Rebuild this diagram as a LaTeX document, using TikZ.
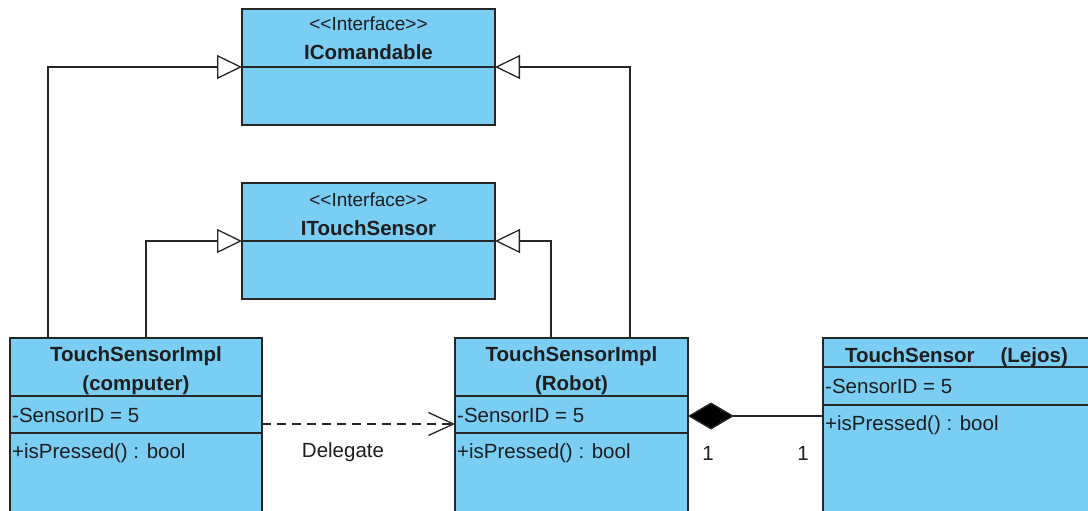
\documentclass[tikz,border=0pt]{standalone}
\usepackage{fontspec}
\setmainfont{Liberation Sans}
\usetikzlibrary{arrows.meta}
\definecolor{umlfill}{RGB}{122,206,244}
\definecolor{umlline}{RGB}{38,38,38}
\definecolor{umltext}{RGB}{30,30,30}
\newcommand{\lsep}{\textless\kern0pt\textless}
\newcommand{\rsep}{\textgreater\kern0pt\textgreater}
\begin{document}
\begin{tikzpicture}[x=1pt,y=-1pt,
  classbox/.style={draw=umlline, fill=umlfill, line width=1.6pt, anchor=north west, inner sep=0pt, outer sep=0pt},
  divider/.style={draw=umlline, line width=1.6pt},
  txt/.style={anchor=base, inner sep=0pt, text=umltext, font=\fontsize{20.5}{24}\selectfont},
  ltxt/.style={txt, anchor=base west},
  ttl/.style={txt, font=\fontsize{20.5}{24}\selectfont\bfseries},
  stereo/.style={txt, font=\fontsize{19}{24}\selectfont},
  gen/.style={draw=umlline, line width=1.3pt, -{Triangle[length=25pt,width=24pt,fill=white]}},
  dep/.style={draw=umlline, line width=1.3pt, dash pattern=on 9pt off 6pt, -{Straight Barb[length=25pt,width=23pt]}},
  compo/.style={draw=umlline, line width=1.3pt, {Diamond[length=46pt,width=27pt,fill=black]}-}
]
\path[use as bounding box] (0,0) rectangle (1088,511);
\clip (0,0) rectangle (1088,511);

% class boxes
\node[classbox, minimum width=253pt, minimum height=116pt] (icom) at (242,9) {};
\node[classbox, minimum width=253pt, minimum height=116pt] (itouch) at (242,183) {};
\node[classbox, minimum width=252pt, minimum height=200pt] (comp) at (10,338) {};
\node[classbox, minimum width=233pt, minimum height=200pt] (robot) at (455,338) {};
\node[classbox, minimum width=300pt, minimum height=200pt] (lejos) at (823,338) {};

% dividers
\draw[divider] (icom.west) -- (icom.east);
\draw[divider] (itouch.west) -- (itouch.east);
\draw[divider] ([yshift=-58pt]comp.north west) -- ([yshift=-58pt]comp.north east);
\draw[divider] ([yshift=-95pt]comp.north west) -- ([yshift=-95pt]comp.north east);
\draw[divider] ([yshift=-58pt]robot.north west) -- ([yshift=-58pt]robot.north east);
\draw[divider] ([yshift=-95pt]robot.north west) -- ([yshift=-95pt]robot.north east);
\draw[divider] ([yshift=-29pt]lejos.north west) -- ([yshift=-29pt]lejos.north east);
\draw[divider] ([yshift=-67pt]lejos.north west) -- ([yshift=-67pt]lejos.north east);

% texts
\node[stereo] (icomst) at (368.5,31) {\lsep Interface\rsep};
\node[ttl] (icomname) at (368.5,60) {IComandable};
\node[stereo] (itouchst) at (368.5,206) {\lsep Interface\rsep};
\node[ttl] (itouchname) at (368.5,235) {ITouchSensor};

\node[ttl] (compt1) at (136,361) {TouchSensorImpl};
\node[ttl] (compt2) at (136,390) {(computer)};
\node[ltxt] (compattr) at (12,422) {-SensorID = 5};
\node[ltxt] (compop) at (12,458) {+isPressed() : bool};

\node[ttl] (robt1) at (571.5,361) {TouchSensorImpl};
\node[ttl] (robt2) at (571.5,390) {(Robot)};
\node[ltxt] (robattr) at (457,422) {-SensorID = 5};
\node[ltxt] (robop) at (457,458) {+isPressed() : bool};

\node[ttl] (lejt) at (956.5,362) {TouchSensor\hspace{26pt}(Lejos)};
\node[ltxt] (lejattr) at (825,393) {-SensorID = 5};
\node[ltxt] (lejop) at (825,430) {+isPressed() : bool};

% connectors
\draw[gen] ([xshift=38pt]comp.north west) |- (icom.west);
\draw[gen] ([xshift=136pt]comp.north west) |- (itouch.west);
\draw[gen] ([xshift=175pt]robot.north west) |- (icom.east);
\draw[gen] ([xshift=96pt]robot.north west) |- (itouch.east);
\draw[dep] ([yshift=-86pt]comp.north east) -- ([yshift=-86pt]robot.north west);
\draw[compo] ([yshift=-78pt]robot.north east) -- ([yshift=-78pt]lejos.north west);

% labels
\node[txt] (delegate) at (343,457) {Delegate};
\node[txt] (mult1) at (708,460) {1};
\node[txt] (mult2) at (803,460) {1};
\end{tikzpicture}
\end{document}
